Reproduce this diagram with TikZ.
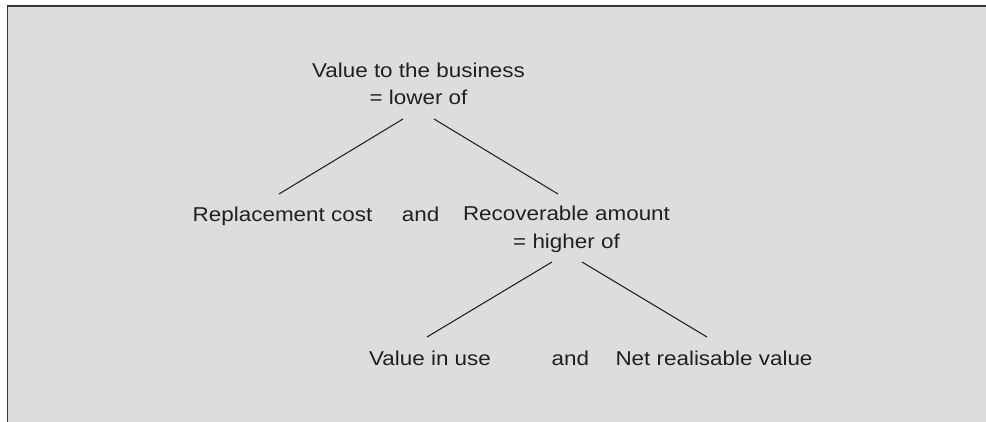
\documentclass[tikz,border=0pt]{standalone}
\usepackage{fontspec}
\setmainfont[FakeStretch=1.12]{Liberation Sans}
\usetikzlibrary{positioning,calc}
\definecolor{panelgrey}{RGB}{220,221,223}
\definecolor{inkgrey}{RGB}{35,31,32}
\tikzset{
  lbl/.style={font=\fontsize{11.4}{15.9}\selectfont, text=inkgrey, inner sep=0pt, align=center},
  branch/.style={draw=inkgrey, line width=0.6pt}
}

\begin{document}
\begin{tikzpicture}[x=0.02cm,y=-0.02cm]
  \useasboundingbox (0,0) rectangle (986,422);
  \fill[panelgrey] (7,6) rectangle (986,422);
  \draw[inkgrey!90, line width=0.034cm] (986,6) -- (7.5,6) -- (7.5,422);

  % base of a two-line label is its last line
  \node[lbl, anchor=base] (top) at (418.5,105) {Value to the business\\= lower of};
  \node[lbl, anchor=base] (rc) at (282.5,221) {Replacement cost};
  \node[lbl, base right=0.58cm of rc] (and1) {and};
  \node[lbl, anchor=base] (ra) at (566.5,248) {Recoverable amount\\= higher of};
  \node[lbl, anchor=base] (viu) at (430,365) {Value in use};
  \node[lbl, base right=1.2cm of viu] (and2) {and};
  \node[lbl, anchor=base] (nrv) at (714,365) {Net realisable value};

  \draw[branch] ($(top.base)+(-15.5,14)$) -- ($(rc.base)+(-3.5,-27)$);
  \draw[branch] ($(top.base)+(15.5,14)$) -- ($(ra.base)+(-8.5,-54)$);
  \draw[branch] ($(ra.base)+(-14.5,14)$) -- ($(viu.base)+(-3,-28)$);
  \draw[branch] ($(ra.base)+(15.5,14)$) -- ($(nrv.base)+(-7,-28)$);
\end{tikzpicture}
\end{document}
